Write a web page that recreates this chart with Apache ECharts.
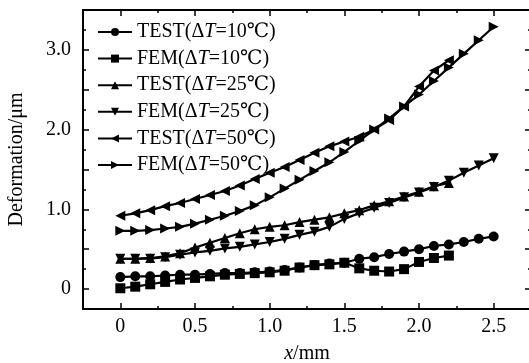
<!DOCTYPE html>
<html>
<head>
<meta charset="utf-8">
<script src="https://cdn.jsdelivr.net/npm/echarts@6/dist/echarts.min.js"></script>
<style>
  * { margin: 0; padding: 0; }
  body { background: #fff; }
</style>
</head>
<body>
<!--图表容器-->
<div id="main" style="width: 529px; height: 363px"></div>
<script>
// x 坐标 (mm)
var xLong = [0, 0.1, 0.2, 0.3, 0.4, 0.5, 0.6, 0.7, 0.8, 0.9, 1.0, 1.1, 1.2, 1.3, 1.4, 1.5, 1.6, 1.7, 1.8, 1.9, 2.0, 2.1, 2.2, 2.3, 2.4, 2.5];
var xShort = [0, 0.1, 0.2, 0.3, 0.4, 0.5, 0.6, 0.7, 0.8, 0.9, 1.0, 1.1, 1.2, 1.3, 1.4, 1.5, 1.6, 1.7, 1.8, 1.9, 2.0, 2.1, 2.2];

// 变形量 (μm)
var test10 = [0.15, 0.16, 0.16, 0.17, 0.18, 0.18, 0.19, 0.2, 0.2, 0.21, 0.22, 0.24, 0.27, 0.3, 0.32, 0.33, 0.38, 0.40, 0.44, 0.47, 0.50, 0.54, 0.56, 0.59, 0.63, 0.66];
var fem10 = [0.01, 0.03, 0.06, 0.09, 0.12, 0.14, 0.16, 0.18, 0.19, 0.2, 0.21, 0.23, 0.27, 0.3, 0.31, 0.33, 0.26, 0.23, 0.22, 0.25, 0.34, 0.39, 0.42];
var test25 = [0.38, 0.38, 0.39, 0.41, 0.45, 0.52, 0.58, 0.64, 0.70, 0.75, 0.78, 0.80, 0.84, 0.87, 0.90, 0.95, 0.99, 1.05, 1.10, 1.16, 1.22, 1.29, 1.33];
var fem25 = [0.38, 0.38, 0.38, 0.40, 0.43, 0.46, 0.48, 0.51, 0.53, 0.56, 0.59, 0.63, 0.68, 0.72, 0.78, 0.88, 0.95, 1.02, 1.08, 1.15, 1.21, 1.28, 1.36, 1.46, 1.55, 1.64];
var test50 = [0.92, 0.95, 0.99, 1.04, 1.08, 1.13, 1.18, 1.23, 1.30, 1.38, 1.46, 1.53, 1.62, 1.71, 1.79, 1.85, 1.91, 2.00, 2.12, 2.29, 2.54, 2.74, 2.87];
var fem50 = [0.73, 0.73, 0.74, 0.76, 0.78, 0.82, 0.87, 0.92, 0.98, 1.05, 1.15, 1.26, 1.37, 1.48, 1.59, 1.72, 1.86, 2.00, 2.14, 2.29, 2.44, 2.61, 2.78, 2.95, 3.12, 3.29];

var seriesNames = ["TEST(ΔT=10℃)", "FEM(ΔT=10℃)", "TEST(ΔT=25℃)", "FEM(ΔT=25℃)", "TEST(ΔT=50℃)", "FEM(ΔT=50℃)"];

// 刻度
var xMajor = [0, 0.5, 1.0, 1.5, 2.0, 2.5];
var xMinor = [-0.25, 0.25, 0.75, 1.25, 1.75, 2.25, 2.75];
var yMajor = [0, 0.5, 1.0, 1.5, 2.0, 2.5, 3.0, 3.5];
var yMinor = [-0.25, 0.25, 0.75, 1.25, 1.75, 2.25, 2.75, 3.25];
var yLabels = [0, 1, 2, 3];

var FONT = "'Liberation Serif', 'Times New Roman', 'DejaVu Serif', serif";

function pairs(xs, ys) {
  var out = [];
  for (var i = 0; i < ys.length; i++) out.push([xs[i], ys[i]]);
  return out;
}

function makeSeries(name, xs, ys, symbol, rotate) {
  return {
    name: name,
    type: "line",
    data: pairs(xs, ys),
    symbol: symbol,
    symbolSize: 10,
    symbolRotate: rotate,
    lineStyle: { color: "#000", width: 2.2 },
    itemStyle: { color: "#000" },
    animation: false
  };
}

function xAx(pos, ticks, len, show, labels) {
  return {
    type: "value",
    position: pos,
    min: -0.25,
    max: 2.75,
    axisLine: { show: show, onZero: false, lineStyle: { color: "#000", width: 2 } },
    axisTick: { show: true, inside: true, length: len, customValues: ticks, lineStyle: { color: "#000", width: 1.5 } },
    axisLabel: labels ? {
      customValues: xMajor,
      margin: 8,
      color: "#000",
      fontFamily: FONT,
      fontSize: 20,
      formatter: function (v) { return v === 0 ? "0" : v.toFixed(1); }
    } : { show: false },
    splitLine: { show: false }
  };
}

function yAx(pos, ticks, len, show, labels) {
  return {
    type: "value",
    position: pos,
    min: -0.25,
    max: 3.5,
    axisLine: { show: show, onZero: false, lineStyle: { color: "#000", width: 2 } },
    axisTick: { show: true, inside: true, length: len, customValues: ticks, lineStyle: { color: "#000", width: 1.5 } },
    axisLabel: labels ? {
      customValues: yLabels,
      margin: 12,
      color: "#000",
      fontFamily: FONT,
      fontSize: 20,
      formatter: function (v) { return v === 0 ? "0" : v.toFixed(1); }
    } : { show: false },
    splitLine: { show: false }
  };
}

var chart = echarts.init(document.getElementById("main"));

var xMain = xAx("bottom", xMajor, 6, true, true);
xMain.name = "{i|x}{n|/mm}";
xMain.nameLocation = "middle";
xMain.nameGap = 35;
xMain.nameTextStyle = {
  rich: {
    i: { fontFamily: FONT, fontSize: 20, fontStyle: "italic", color: "#000" },
    n: { fontFamily: FONT, fontSize: 20, color: "#000" }
  }
};

var yMain = yAx("left", yMajor, 6, true, true);
yMain.name = "Deformation/μm";
yMain.nameLocation = "middle";
yMain.nameGap = 56;
yMain.nameTextStyle = { fontFamily: FONT, fontSize: 20, color: "#000" };

chart.setOption({
  animation: false,
  grid: { left: 83, top: 10, right: -2, bottom: 54, outerBoundsMode: "none", containLabel: false },
  legend: {
    orient: "vertical",
    left: 92,
    top: 17,
    itemWidth: 34,
    itemHeight: 10,
    itemGap: 6.6,
    data: seriesNames,
    formatter: function (name) {
      var p = name.split("ΔT");
      return "{n|" + p[0] + "Δ}{i|T}{n|" + p[1] + "}";
    },
    textStyle: {
      rich: {
        n: { fontFamily: FONT, fontSize: 20, lineHeight: 20, color: "#000" },
        i: { fontFamily: FONT, fontSize: 20, lineHeight: 20, fontStyle: "italic", color: "#000" }
      }
    }
  },
  xAxis: [
    xMain,
    xAx("bottom", xMinor, 3, false, false),
    xAx("top", xMajor, 6, true, false),
    xAx("top", xMinor, 3, false, false)
  ],
  yAxis: [
    yMain,
    yAx("left", yMinor, 3, false, false),
    yAx("right", yMajor, 6, true, false),
    yAx("right", yMinor, 3, false, false)
  ],
  series: [
    makeSeries(seriesNames[0], xLong, test10, "circle", 0),
    makeSeries(seriesNames[1], xShort, fem10, "rect", 0),
    makeSeries(seriesNames[2], xShort, test25, "triangle", 0),
    makeSeries(seriesNames[3], xLong, fem25, "triangle", 180),
    makeSeries(seriesNames[4], xShort, test50, "triangle", 90),
    makeSeries(seriesNames[5], xLong, fem50, "triangle", -90)
  ]
});
</script>
</body>
</html>
